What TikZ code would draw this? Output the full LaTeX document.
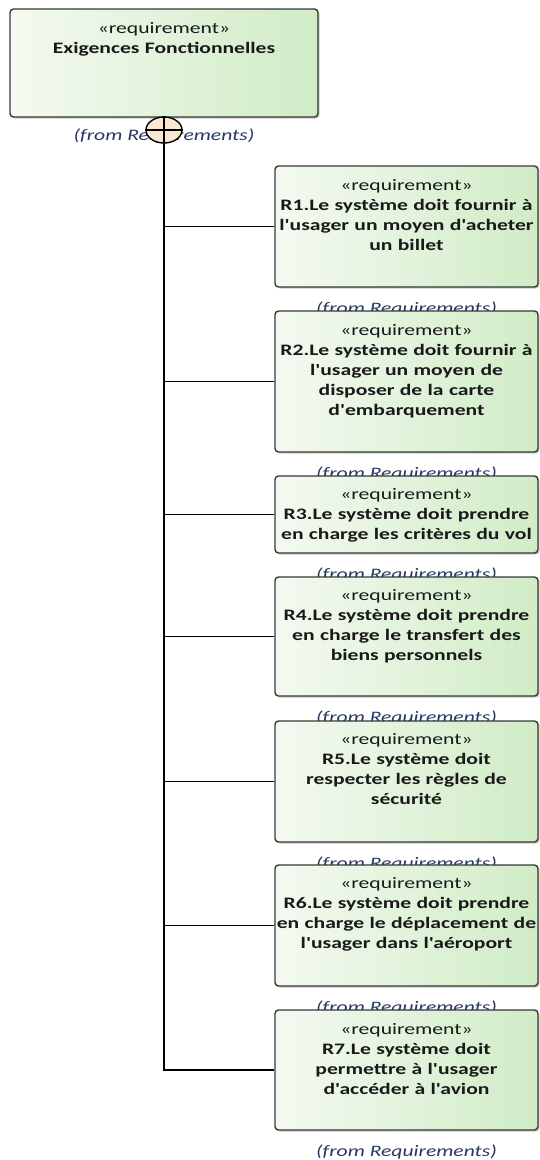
\documentclass[tikz,border=0pt]{standalone}
\usepackage{fontspec}
\setmainfont{Carlito}[FakeStretch=1.35, Ligatures=TeXOff]
\usetikzlibrary{shapes.geometric,shadows}
\definecolor{boxL}{RGB}{244,250,241}
\definecolor{boxR}{RGB}{208,236,198}
\definecolor{edgecol}{RGB}{55,55,55}
\definecolor{fromcol}{RGB}{40,55,100}
\definecolor{circfill}{RGB}{250,232,212}
\tikzset{
 reqbox/.style={draw=edgecol, line width=1.4pt, rounded corners=3.5pt, left color=boxL, right color=boxR, minimum width=263pt, inner sep=0pt, drop shadow={shadow xshift=1.6pt, shadow yshift=-1.6pt, opacity=0.35, fill=black!60}},
 reqtext/.style={anchor=north, inner sep=0pt, align=center, text width=262pt, font=\fontsize{16}{20}\selectfont, text=black!90},
 fromlbl/.style={inner sep=0pt, font=\fontsize{16}{20}\selectfont\itshape, text=fromcol},
 link/.style={draw=black, line width=1.4pt}
}
\begin{document}
\begin{tikzpicture}[x=1pt,y=-1pt]
\useasboundingbox (0,0) rectangle (539,1160);
% top requirement
\node[reqbox, minimum width=308pt, minimum height=108pt] (top) at (164,63) {};
\node[reqtext, text width=300pt] (toptxt) at ([yshift=-14pt]top.north) {«requirement»\\\bfseries Exigences Fonctionnelles};
\node[fromlbl] (topfrom) at (164,136) {(from Requirements)};
\node[ellipse, draw=black, line width=1.4pt, fill=circfill, minimum width=36pt, minimum height=26pt, inner sep=0pt] (circ) at (164,130) {};
\draw[line width=1.2pt] (circ.north) -- (circ.south) (circ.west) -- (circ.east);
% R1
\node[reqbox, minimum height=121pt] (r1) at (406.5,226.5) {};
\node[reqtext] (t1) at ([yshift=-14pt]r1.north) {«requirement»\\\bfseries R1.Le système doit fournir à\\l'usager un moyen d'acheter\\un billet};
\node[fromlbl] (f1) at (406.5,309) {(from Requirements)};
% R2
\node[reqbox, minimum height=141pt] (r2) at (406.5,381.5) {};
\node[reqtext] (t2) at ([yshift=-14pt]r2.north) {«requirement»\\\bfseries R2.Le système doit fournir à\\l'usager un moyen de\\disposer de la carte\\d'embarquement};
\node[fromlbl] (f2) at (406.5,474) {(from Requirements)};
% R3
\node[reqbox, minimum height=77pt] (r3) at (406.5,514.5) {};
\node[reqtext] (t3) at ([yshift=-13pt]r3.north) {«requirement»\\\bfseries R3.Le système doit prendre\\en charge les critères du vol};
\node[fromlbl] (f3) at (406.5,575) {(from Requirements)};
% R4
\node[reqbox, minimum height=119pt] (r4) at (406.5,636.5) {};
\node[reqtext] (t4) at ([yshift=-13pt]r4.north) {«requirement»\\\bfseries R4.Le système doit prendre\\en charge le transfert des\\biens personnels};
\node[fromlbl] (f4) at (406.5,718) {(from Requirements)};
% R5
\node[reqbox, minimum height=121pt] (r5) at (406.5,781.5) {};
\node[reqtext] (t5) at ([yshift=-13pt]r5.north) {«requirement»\\\bfseries R5.Le système doit\\respecter les règles de\\sécurité};
\node[fromlbl] (f5) at (406.5,864) {(from Requirements)};
% R6
\node[reqbox, minimum height=121pt] (r6) at (406.5,925.5) {};
\node[reqtext] (t6) at ([yshift=-13pt]r6.north) {«requirement»\\\bfseries R6.Le système doit prendre\\en charge le déplacement de\\l'usager dans l'aéroport};
\node[fromlbl] (f6) at (406.5,1008) {(from Requirements)};
% R7
\node[reqbox, minimum height=120pt] (r7) at (406.5,1070) {};
\node[reqtext] (t7) at ([yshift=-14pt]r7.north) {«requirement»\\\bfseries R7.Le système doit\\permettre à l'usager\\d'accéder à l'avion};
\node[fromlbl] (f7) at (406.5,1152) {(from Requirements)};
% connectors
\draw[link] (circ.south) -- (circ.south |- r7.west) -- (r7.west);
\foreach \r in {r1,r2,r3,r4,r5,r6}{
  \draw[link] (circ.south |- \r.west) -- (\r.west);
}
\end{tikzpicture}
\end{document}
